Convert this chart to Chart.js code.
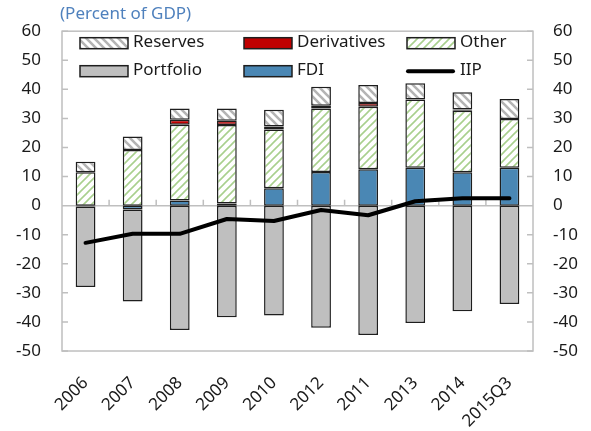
<!DOCTYPE html>
<html>
<head>
<meta charset="utf-8">
<script src="https://cdn.jsdelivr.net/npm/chart.js@4"></script>
<style>
  html, body { margin: 0; padding: 0; background: #fff; }
  canvas { display: block; }
</style>
</head>
<body>
<canvas id="iipChart" width="591" height="431"></canvas>
<script>
// dados (% do PIB)
const categories = ['2006', '2007', '2008', '2009', '2010', '2012', '2011', '2013', '2014', '2015Q3'];
const fdi         = [0, -1.3, 1.8, 0.7, 6.0, 11.6, 12.5, 13.0, 11.5, 13.0];
const other       = [11.5, 19.1, 26.0, 27.0, 20.2, 21.8, 21.5, 23.5, 21.1, 16.8];
const derivatives = [-0.3, 0, 1.7, 1.5, 1.0, 1.0, 1.3, 0, 0.5, 0];
const reserves    = [3.6, 4.7, 3.9, 4.2, 5.8, 6.5, 6.2, 5.6, 5.9, 6.9];
const portfolio   = [-27.7, -31.7, -42.8, -38.4, -37.8, -42.0, -44.5, -40.4, -36.3, -33.8];
const iip         = [-12.8, -9.7, -9.7, -4.6, -5.3, -1.5, -3.3, 1.5, 2.5, 2.5];
const yTicks      = [-50, -40, -30, -20, -10, 0, 10, 20, 30, 40, 50, 60];

const FONT = '"Noto Sans", "Open Sans", sans-serif';

// zeros viram null para não desenhar borda vazia
const noZero = arr => arr.map(v => (v === 0 ? null : v));

// padrões hachurados (estilo Excel)
function hatch(color, width, dir) {
    const c = document.createElement('canvas');
    c.width = 8; c.height = 8;
    const g = c.getContext('2d');
    g.fillStyle = '#fff';
    g.fillRect(0, 0, 8, 8);
    g.strokeStyle = color;
    g.lineWidth = width;
    g.beginPath();
    if (dir === '/') {
        g.moveTo(-2, 10); g.lineTo(10, -2);
        g.moveTo(-6, 6); g.lineTo(6, -6);
        g.moveTo(2, 14); g.lineTo(14, 2);
    } else {
        g.moveTo(-2, -2); g.lineTo(10, 10);
        g.moveTo(-6, 2); g.lineTo(6, 14);
        g.moveTo(2, -6); g.lineTo(14, 6);
    }
    g.stroke();
    return g.createPattern(c, 'repeat');
}

const ctx = document.getElementById('iipChart').getContext('2d');
const otherFill = hatch('#a9d08e', 1.6, '/');
const reservesFill = hatch('#b4b4b4', 2.6, '\\');
const edge = '#1e1e1e';

const barBase = {
    type: 'bar',
    borderColor: edge,
    borderWidth: 1.5,
    borderSkipped: false,
    barPercentage: 0.42,
    categoryPercentage: 1,
    stack: 'bars'
};

// plugin: moldura, linha do zero, marcas internas, título e legenda
const decor = {
    id: 'decor',
    beforeDatasetsDraw(chart) {
        const { ctx, chartArea: a, scales } = chart;
        const y0 = scales.y.getPixelForValue(0);
        ctx.save();
        ctx.strokeStyle = '#bfbfbf';
        ctx.lineWidth = 1.5;
        ctx.strokeRect(a.left, a.top, a.right - a.left, a.bottom - a.top);
        ctx.beginPath();
        ctx.moveTo(a.left, y0); ctx.lineTo(a.right, y0);
        // marcas do eixo Y (para dentro)
        yTicks.forEach(v => {
            const p = scales.y.getPixelForValue(v);
            ctx.moveTo(a.left, p); ctx.lineTo(a.left + 6, p);
            ctx.moveTo(a.right, p); ctx.lineTo(a.right - 6, p);
        });
        // marcas do eixo X entre categorias, sobre a linha do zero
        for (let i = 1; i < categories.length; i++) {
            const x = (scales.x.getPixelForValue(i - 1) + scales.x.getPixelForValue(i)) / 2;
            ctx.moveTo(x, y0); ctx.lineTo(x, y0 - 6);
        }
        ctx.stroke();
        ctx.restore();
    },
    afterDraw(chart) {
        const { ctx, chartArea: a } = chart;
        ctx.save();
        ctx.font = '17px ' + FONT;
        ctx.textBaseline = 'middle';
        ctx.fillStyle = '#4f81bd';
        ctx.fillText('(Percent of GDP)', a.left - 2, 14);

        // legenda dentro da área do gráfico
        const items = [
            { label: 'Reserves', fill: reservesFill, col: 0, row: 0 },
            { label: 'Derivatives', fill: '#c00000', col: 1, row: 0 },
            { label: 'Other', fill: otherFill, col: 2, row: 0 },
            { label: 'Portfolio', fill: '#bfbfbf', col: 0, row: 1 },
            { label: 'FDI', fill: '#4a87b4', col: 1, row: 1 },
            { label: 'IIP', line: true, col: 2, row: 1 }
        ];
        const colX = [a.left + 18, a.left + 182, a.left + 345];
        const rowY = [a.top + 12, a.top + 40];
        items.forEach(it => {
            const x = colX[it.col];
            const y = rowY[it.row];
            if (it.line) {
                ctx.strokeStyle = '#000';
                ctx.lineWidth = 4;
                ctx.lineCap = 'round';
                ctx.beginPath();
                ctx.moveTo(x + 1, y); ctx.lineTo(x + 46, y);
                ctx.stroke();
            } else {
                ctx.fillStyle = it.fill;
                ctx.fillRect(x, y - 5.5, 48, 11);
                ctx.strokeStyle = edge;
                ctx.lineWidth = 1.5;
                ctx.strokeRect(x, y - 5.5, 48, 11);
            }
            ctx.fillStyle = '#1a1a1a';
            ctx.fillText(it.label, x + 53, y - 1);
        });
        ctx.restore();
    }
};

new Chart(ctx, {
    data: {
        labels: categories,
        datasets: [
            { ...barBase, label: 'FDI', data: noZero(fdi), backgroundColor: '#4a87b4' },
            { ...barBase, label: 'Other', data: noZero(other), backgroundColor: otherFill },
            { ...barBase, label: 'Derivatives', data: noZero(derivatives), backgroundColor: '#c00000' },
            { ...barBase, label: 'Reserves', data: noZero(reserves), backgroundColor: reservesFill },
            { ...barBase, label: 'Portfolio', data: noZero(portfolio), backgroundColor: '#bfbfbf' },
            {
                type: 'line',
                label: 'IIP',
                data: iip,
                stack: 'iip',
                order: -1,
                borderColor: '#000',
                borderWidth: 4,
                borderCapStyle: 'round',
                borderJoinStyle: 'round',
                pointRadius: 0,
                tension: 0
            }
        ]
    },
    options: {
        responsive: false,
        animation: false,
        layout: { padding: { top: 24, left: 0, right: 0, bottom: 0 } },
        plugins: {
            legend: { display: false },
            tooltip: { enabled: false },
            title: { display: false }
        },
        scales: {
            x: {
                stacked: true,
                offset: true,
                grid: { display: false, drawTicks: false },
                border: { display: false },
                ticks: {
                    color: '#1a1a1a',
                    font: { family: FONT, size: 17 },
                    maxRotation: 45,
                    minRotation: 45,
                    padding: 22
                },
                afterFit(scale) { scale.height = 80; }
            },
            y: {
                stacked: true,
                position: 'left',
                min: -50,
                max: 60,
                grid: { display: false, drawTicks: false },
                border: { display: false },
                ticks: {
                    stepSize: 10,
                    color: '#1a1a1a',
                    font: { family: FONT, size: 17 },
                    padding: 21
                },
                afterFit(scale) { scale.width = 62; }
            },
            y2: {
                position: 'right',
                min: -50,
                max: 60,
                grid: { display: false, drawTicks: false },
                border: { display: false },
                ticks: {
                    stepSize: 10,
                    color: '#1a1a1a',
                    font: { family: FONT, size: 17 },
                    padding: 20
                },
                afterFit(scale) { scale.width = 58; }
            }
        }
    },
    plugins: [decor]
});
</script>
</body>
</html>
